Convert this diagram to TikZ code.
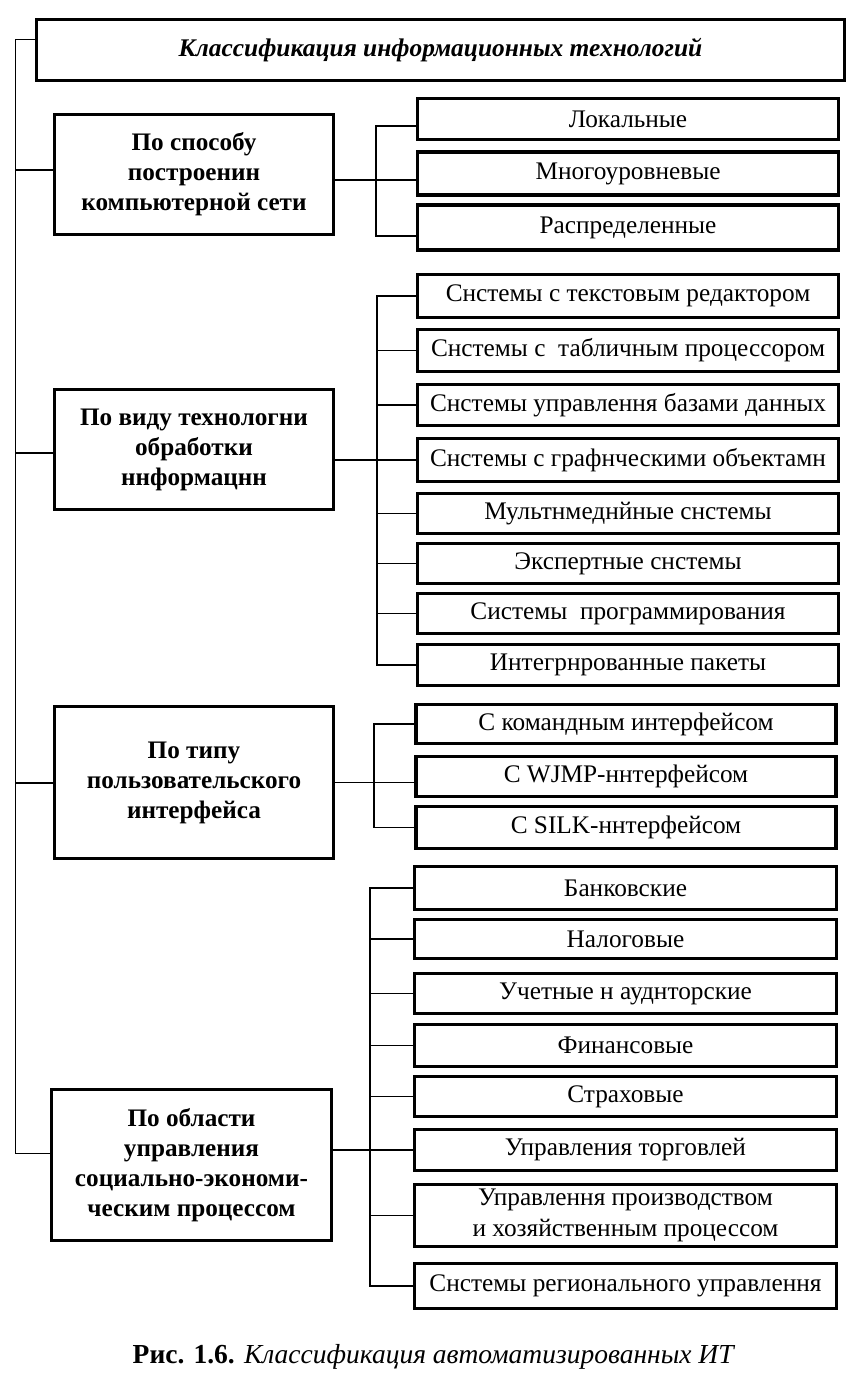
\documentclass[tikz,border=0pt]{standalone}
\usepackage{fontspec}
\setmainfont{Liberation Serif}
\begin{document}
\begin{tikzpicture}[x=1pt,y=-1pt,
  cat/.style={draw, line width=3.6pt, minimum width=279pt, align=center,
     font=\bfseries\fontsize{25.2}{30}\selectfont, inner sep=0pt},
  item/.style={draw, line width=3.6pt, minimum width=421pt, align=center,
     font=\fontsize{25.3}{31}\selectfont, inner sep=0pt},
  link/.style={line width=1.3pt},
  spine/.style={line width=1pt}]
\useasboundingbox (0,0) rectangle (857,1379);
% title
\node[draw, line width=3.6pt, minimum width=808pt, minimum height=61pt,
  font=\bfseries\itshape\fontsize{25.4}{30}\selectfont] (title) at (440.5,50)
  {Классификация информационных технологий};
% categories
\node[cat, minimum height=120pt] (c1) at (194,174.5) {По способу\\построенин\\компьютерной сети};
\node[cat, minimum height=120pt] (c2) at (194,449.5) {По виду технологни\\обработки\\ннформацнн};
\node[cat, minimum height=152pt] (c3) at (194,782.5) {По типу\\пользовательского\\интерфейса};
\node[cat, minimum height=151pt, minimum width=280pt] (c4) at (191.5,1165) {По области\\управления\\социально-экономи-\\ческим процессом};
% group 1
\node[item, minimum height=41pt] (a1) at (628,119) {Локальные};
\node[item, minimum height=43pt] (a2) at (628,173.5) {Многоуровневые};
\node[item, minimum height=45pt] (a3) at (628,227.5) {Распределенные};
% group 2
\node[item, minimum height=43pt] (b1) at (628,296) {Снстемы с текстовым редактором};
\node[item, minimum height=42pt] (b2) at (628,350.5) {Снстемы с~~табличным процессором};
\node[item, minimum height=41pt] (b3) at (628,405) {Снстемы управлення базами данных};
\node[item, minimum height=43pt] (b4) at (628,460) {Снстемы с графнческими объектамн};
\node[item, minimum height=40pt] (b5) at (628,513.5) {Мультнмеднйные снстемы};
\node[item, minimum height=40pt] (b6) at (628,563.5) {Экспертные снстемы};
\node[item, minimum height=40pt] (b7) at (628,613.5) {Системы~~программирования};
\node[item, minimum height=41pt] (b8) at (628,665) {Интегрнрованные пакеты};
% group 3
\node[item, minimum height=39pt, minimum width=420pt] (d1) at (626,724) {С командным интерфейсом};
\node[item, minimum height=40pt, minimum width=420pt] (d2) at (626,776.5) {С WJMP-ннтерфейсом};
\node[item, minimum height=42pt, minimum width=420pt] (d3) at (626,827.5) {С SILK-ннтерфейсом};
% group 4
\node[item, minimum height=43pt, minimum width=422pt] (e1) at (625.5,888) {Банковские};
\node[item, minimum height=39pt, minimum width=422pt] (e2) at (625.5,939) {Налоговые};
\node[item, minimum height=40pt, minimum width=422pt] (e3) at (625.5,993.5) {Учетные н ауднторские};
\node[item, minimum height=42pt, minimum width=422pt] (e4) at (625.5,1045.5) {Финансовые};
\node[item, minimum height=40pt, minimum width=422pt] (e5) at (625.5,1096.5) {Страховые};
\node[item, minimum height=41pt, minimum width=422pt] (e6) at (625.5,1150) {Управления торговлей};
\node[item, minimum height=62pt, minimum width=422pt] (e7) at (625.5,1215.5) {Управлення производством\\и хозяйственным процессом};
\node[item, minimum height=45pt, minimum width=422pt] (e8) at (625.5,1286) {Снстемы регионального управлення};
% caption
\node[font=\fontsize{27.5}{32}\selectfont] (cap) at (434,1357) {\textbf{Рис. 1.6.} \textit{Классификация автоматизированных ИТ}};
% spine
\coordinate (sp) at (15,39);
\coordinate (spb) at (15,1153);
\draw[spine] (title.west |- sp) -- (sp) -- (spb) -- (spb -| c4.west);
\draw[link] (15,170) -- (c1.west |- 0,170);
\draw[link] (15,453) -- (c2.west |- 0,453);
\draw[link] (15,783) -- (c3.west |- 0,783);
% group 1 bus
\coordinate (g1) at (376,0);
\coordinate (a1p) at ([yshift=-7pt]a1.west);
\coordinate (a2p) at ([yshift=-6.5pt]a2.west);
\coordinate (a3p) at ([yshift=-8.5pt]a3.west);
\draw[link] (c1.east |- a2p) -- (a2p);
\draw[link] (a1p) -| (g1 |- a3p) -- (a3p);
% group 2 bus
\coordinate (g2) at (377,0);
\draw[link] (c2.east |- b4.west) -- (b4.west);
\draw[link] (b1.west) -| (g2 |- b8.west) -- (b8.west);
\foreach \n in {b2,b3,b5,b6,b7} \draw[link] (g2 |- \n.west) -- (\n.west);
% group 3 bus
\coordinate (g3) at (374,0);
\coordinate (d2p) at ([yshift=-6pt]d2.west);
\draw[link] (c3.east |- d2p) -- (d2p);
\draw[link] (d1.west) -| (g3 |- d3.west) -- (d3.west);
% group 4 bus
\coordinate (g4) at (370,0);
\draw[link] (c4.east |- e6.west) -- (e6.west);
\draw[link] (e1.west) -| (g4 |- e8.west) -- (e8.west);
\foreach \n in {e2,e3,e4,e5,e7} \draw[link] (g4 |- \n.west) -- (\n.west);
\end{tikzpicture}
\end{document}
